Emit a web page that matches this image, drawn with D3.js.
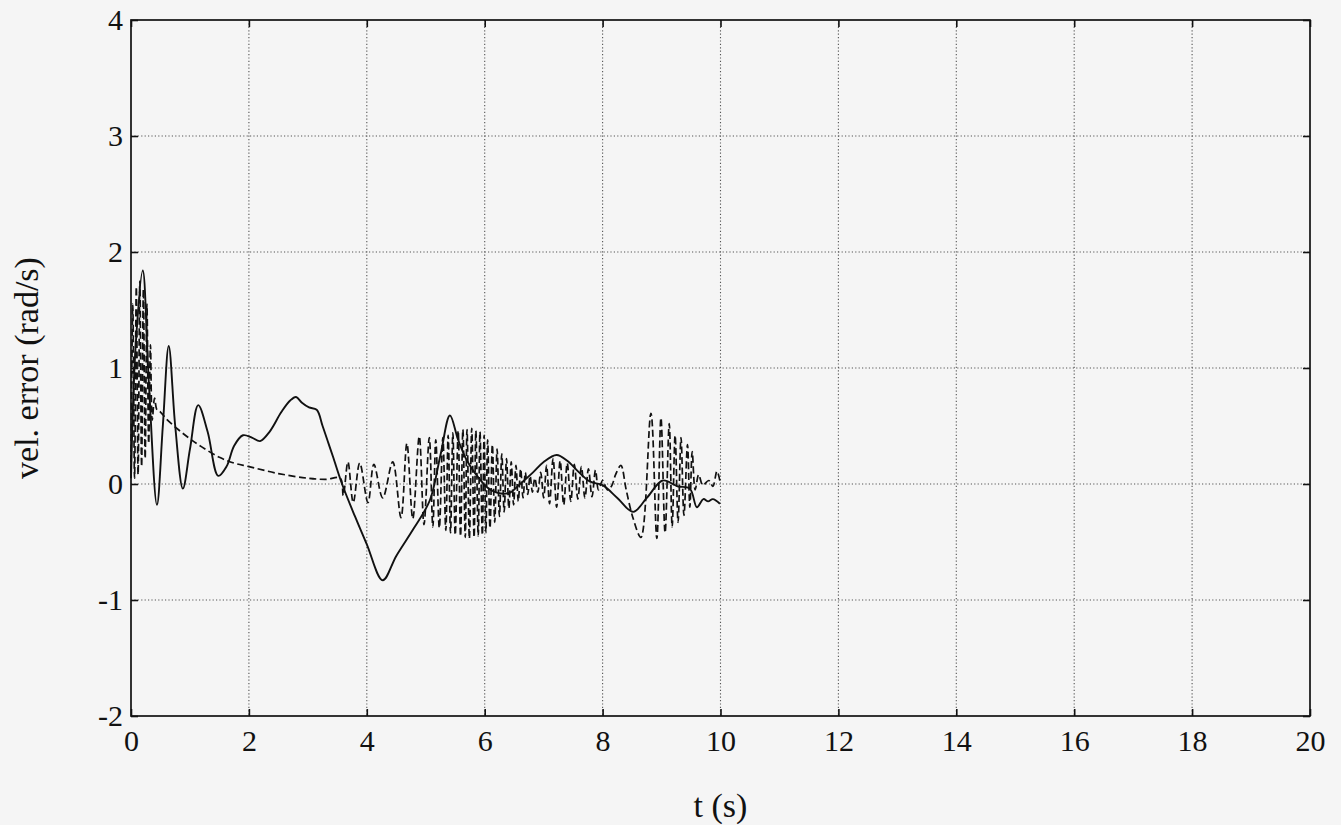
<!DOCTYPE html>
<html><head><meta charset="utf-8">
<script src="https://cdn.jsdelivr.net/npm/d3@7"></script>
<style>
html,body{margin:0;padding:0;background:#f5f5f5;}
svg{display:block;}
svg text{font-family:"Liberation Serif","Times New Roman",serif !important;fill:#111;}
</style></head><body>
<svg id="c" width="1341" height="825"></svg>
<script>
// ---- data ----
const xTicks = [0,2,4,6,8,10,12,14,16,18,20];
const yTicks = [-2,-1,0,1,2,3,4];
const xLabel = "t (s)";
const yLabel = "vel. error (rad/s)";

const solidT = [0,0.08,0.2,0.3,0.44,0.54,0.64,0.75,0.88,1.0,1.14,1.3,1.48,1.62,1.75,1.9,2.05,2.19,2.35,2.55,2.7,2.8,2.9,3.02,3.15,3.25,3.35,3.43,3.58,3.8,4.0,4.27,4.5,4.8,5.07,5.25,5.41,5.55,5.7,5.9,6.1,6.4,6.6,6.82,7.0,7.22,7.4,7.6,7.79,8.0,8.25,8.52,8.75,9.02,9.27,9.48,9.6,9.71,9.79,9.87,9.99];
const solidV = [0.05,1.2,1.84,0.9,-0.18,0.5,1.19,0.5,-0.04,0.3,0.68,0.45,0.07,0.15,0.33,0.42,0.4,0.37,0.45,0.62,0.72,0.75,0.7,0.66,0.64,0.5,0.35,0.23,0.0,-0.28,-0.52,-0.83,-0.62,-0.38,-0.14,0.25,0.59,0.38,0.2,0.05,-0.05,-0.08,0.0,0.1,0.19,0.25,0.2,0.1,0.02,-0.01,-0.12,-0.24,-0.12,0.03,-0.02,-0.04,-0.2,-0.13,-0.15,-0.13,-0.17];

const dashT = [0.00,0.03,0.06,0.09,0.12,0.15,0.18,0.21,0.24,0.27,0.30,0.33,0.36,0.40,0.44,0.50,0.60,0.80,1.00,1.20,1.50,1.75,2.00,2.50,3.00,3.30,3.55,
3.60,3.68,3.77,3.88,4.02,4.12,4.27,4.44,4.58,4.68,4.78,4.89,4.97,5.06,5.12,5.17,5.23,5.29,5.34,5.38,5.42,5.46,5.50,5.55,5.59,5.63,5.67,5.70,5.74,5.78,5.82,5.85,5.89,5.92,5.96,5.99,6.02,6.05,6.09,6.13,6.17,6.21,6.25,6.29,6.33,6.37,6.41,6.45,6.49,6.53,6.57,6.61,6.65,6.69,6.73,6.77,6.81,6.85,6.90,6.95,7.00,7.05,7.10,7.16,7.22,7.28,7.34,7.40,7.46,7.52,7.58,7.64,7.70,7.76,7.82,7.88,7.93,8.00,8.08,8.15,8.22,8.31,8.40,8.52,8.65,8.82,8.92,8.99,9.06,9.13,9.18,9.23,9.28,9.33,9.38,9.44,9.48,9.52,9.57,9.63,9.70,9.80,9.87,9.94,10.0];
const dashV = [0.10,1.55,0.05,1.70,0.08,1.75,0.15,1.68,0.22,1.55,0.35,1.20,0.55,0.74,0.64,0.62,0.56,0.47,0.39,0.32,0.23,0.18,0.15,0.09,0.05,0.04,0.05,
-0.10,0.19,-0.16,0.18,-0.16,0.17,-0.12,0.19,-0.29,0.35,-0.30,0.41,-0.35,0.40,-0.37,0.38,-0.38,0.40,-0.40,0.42,-0.42,0.44,-0.44,0.46,-0.45,0.47,-0.46,0.47,-0.47,0.48,-0.46,0.46,-0.45,0.45,-0.44,0.42,-0.42,0.38,-0.38,0.34,-0.33,0.30,-0.28,0.26,-0.24,0.22,-0.21,0.19,-0.18,0.16,-0.15,0.13,-0.12,0.10,-0.09,0.07,-0.07,0.05,-0.07,0.10,-0.12,0.16,-0.17,0.22,-0.20,0.20,-0.18,0.18,-0.15,0.17,-0.13,0.15,-0.12,0.13,-0.11,0.12,-0.05,0.03,-0.05,-0.02,0.08,0.16,-0.05,-0.30,-0.46,0.61,-0.47,0.57,-0.42,0.52,-0.37,0.42,-0.33,0.40,-0.27,0.34,-0.20,0.28,-0.05,0.08,-0.01,0.03,-0.02,0.11,0.00];

// ---- chart ----
const svg = d3.select("#c");
const m = {l:131, t:20, r:1310, b:716};
const x = d3.scaleLinear().domain([0,20]).range([m.l, m.r]);
const y = d3.scaleLinear().domain([-2,4]).range([m.b, m.t]);
const fmt = d => String(d); // plain hyphen minus

// grid
const grid = svg.append("g").attr("stroke","#555").attr("stroke-width",1.1).attr("stroke-dasharray","1.2,2.2");
grid.selectAll(".gx").data(xTicks.slice(1,-1)).enter().append("line")
  .attr("x1",d=>x(d)).attr("x2",d=>x(d)).attr("y1",m.t).attr("y2",m.b);
grid.selectAll(".gy").data(yTicks.slice(1,-1)).enter().append("line")
  .attr("y1",d=>y(d)).attr("y2",d=>y(d)).attr("x1",m.l).attr("x2",m.r);

// data lines
const solid = solidT.map((t,i)=>[t,solidV[i]]);
const dash = dashT.map((t,i)=>[t,dashV[i]]);
const line = d3.line().x(d=>x(d[0])).y(d=>y(d[1])).curve(d3.curveCatmullRom.alpha(0.5));
svg.append("path").attr("d",line(dash)).attr("fill","none").attr("stroke","#111").attr("stroke-width",1.7).attr("stroke-dasharray","7,3.5");
svg.append("path").attr("d",line(solid)).attr("fill","none").attr("stroke","#111").attr("stroke-width",1.9);

// axes with inward ticks
const tl = 7;
const styleText = g => g.selectAll("text").attr("font-size",30).attr("font-family","Liberation Serif").attr("fill","#111");
svg.append("g").attr("transform",`translate(0,${m.b})`)
  .call(d3.axisBottom(x).tickValues(xTicks).tickSize(-tl).tickPadding(14).tickFormat(fmt))
  .call(g=>{g.select(".domain").remove(); styleText(g);});
svg.append("g").attr("transform",`translate(0,${m.t})`)
  .call(d3.axisTop(x).tickValues(xTicks).tickSize(-tl).tickFormat(""))
  .call(g=>g.select(".domain").remove());
svg.append("g").attr("transform",`translate(${m.l},0)`)
  .call(d3.axisLeft(y).tickValues(yTicks).tickSize(-tl).tickPadding(8).tickFormat(fmt))
  .call(g=>{g.select(".domain").remove(); styleText(g);});
svg.append("g").attr("transform",`translate(${m.r},0)`)
  .call(d3.axisRight(y).tickValues(yTicks).tickSize(-tl).tickFormat(""))
  .call(g=>g.select(".domain").remove());
svg.selectAll(".tick line").attr("stroke","#111").attr("stroke-width",1.6);

// frame
svg.append("rect").attr("x",m.l).attr("y",m.t).attr("width",m.r-m.l).attr("height",m.b-m.t)
  .attr("fill","none").attr("stroke","#111").attr("stroke-width",1.7);

// labels
svg.append("text").attr("x",(m.l+m.r)/2).attr("y",817).attr("text-anchor","middle").attr("font-size",34).text(xLabel);
svg.append("text").attr("transform",`translate(38,${(m.t+m.b)/2}) rotate(-90)`).attr("text-anchor","middle").attr("font-size",34).text(yLabel);
</script></body></html>
